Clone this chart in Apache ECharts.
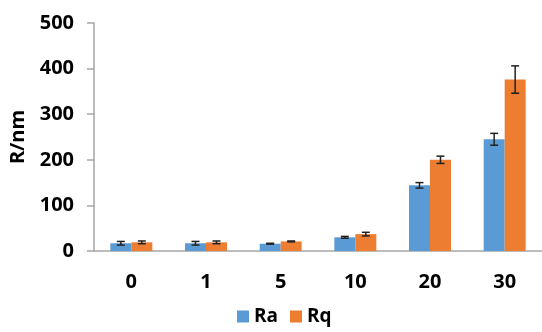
<!DOCTYPE html>
<html><head><meta charset="utf-8">
<script src="https://cdn.jsdelivr.net/npm/echarts@6/dist/echarts.min.js"></script>
<style>html,body{margin:0;padding:0;background:#fff}#c{width:542px;height:332px}</style>
</head><body><div id="c"></div>
<script>
const categories = ['0', '1', '5', '10', '20', '30'];
const raValues = [17, 17, 16, 30, 144, 245];
const rqValues = [19, 19, 21, 37, 200, 376];
const raErrors = [4, 4, 1, 2, 6, 13];
const rqErrors = [3, 3, 1, 4, 8, 30];
const yTicks = { min: 0, max: 500, interval: 100 };

const FONT = '"Open Sans"';
const BAR_W = 21;

function errSeries(vals, errs, offset) {
  return {
    type: 'custom',
    silent: true,
    z: 10,
    data: vals.map((v, i) => [i, v, errs[i]]),
    renderItem: function (params, api) {
      const i = api.value(0), v = api.value(1), e = api.value(2);
      const top = api.coord([i, v + e]);
      const bot = api.coord([i, v - e]);
      const x = top[0] + offset;
      const cap = 4;
      const style = { stroke: '#222', lineWidth: 1.5 };
      return {
        type: 'group',
        children: [
          { type: 'line', shape: { x1: x, y1: top[1], x2: x, y2: bot[1] }, style },
          { type: 'line', shape: { x1: x - cap, y1: top[1], x2: x + cap, y2: top[1] }, style },
          { type: 'line', shape: { x1: x - cap, y1: bot[1], x2: x + cap, y2: bot[1] }, style }
        ]
      };
    }
  };
}

const chart = echarts.init(document.getElementById('c'));
chart.setOption({
  animation: false,
  grid: { left: 93, right: -11, top: 23, bottom: 81 },
  legend: {
    data: ['Ra', 'Rq'],
    left: 232, top: 302,
    itemWidth: 12, itemHeight: 12, itemGap: 12,
    icon: 'rect',
    textStyle: { fontFamily: FONT, fontWeight: 'bold', fontSize: 19, color: '#000' }
  },
  xAxis: {
    type: 'category',
    data: categories,
    axisLine: { lineStyle: { color: '#a6a6a6', width: 1.5 } },
    axisTick: { length: 7, lineStyle: { color: '#a6a6a6', width: 1.5 } },
    axisLabel: { margin: 21, fontFamily: FONT, fontWeight: 'bold', fontSize: 20, color: '#000' }
  },
  yAxis: {
    type: 'value',
    min: yTicks.min, max: yTicks.max, interval: yTicks.interval,
    name: 'R/nm',
    nameLocation: 'middle',
    nameGap: 66,
    nameTextStyle: { fontFamily: FONT, fontWeight: 'bold', fontSize: 20, color: '#000' },
    splitLine: { show: false },
    axisLine: { show: true, lineStyle: { color: '#a6a6a6', width: 1.5 } },
    axisTick: { show: true, length: 7, lineStyle: { color: '#a6a6a6', width: 1.5 } },
    axisLabel: { margin: 20, fontFamily: FONT, fontWeight: 'bold', fontSize: 20, color: '#000' }
  },
  series: [
    { name: 'Ra', type: 'bar', data: raValues, barWidth: BAR_W, barGap: '0%',
      itemStyle: { color: '#5b9bd5' } },
    { name: 'Rq', type: 'bar', data: rqValues, barWidth: BAR_W, barGap: '0%',
      itemStyle: { color: '#ed7d31' } },
    errSeries(raValues, raErrors, -BAR_W / 2),
    errSeries(rqValues, rqErrors, BAR_W / 2)
  ]
});
</script></body></html>
